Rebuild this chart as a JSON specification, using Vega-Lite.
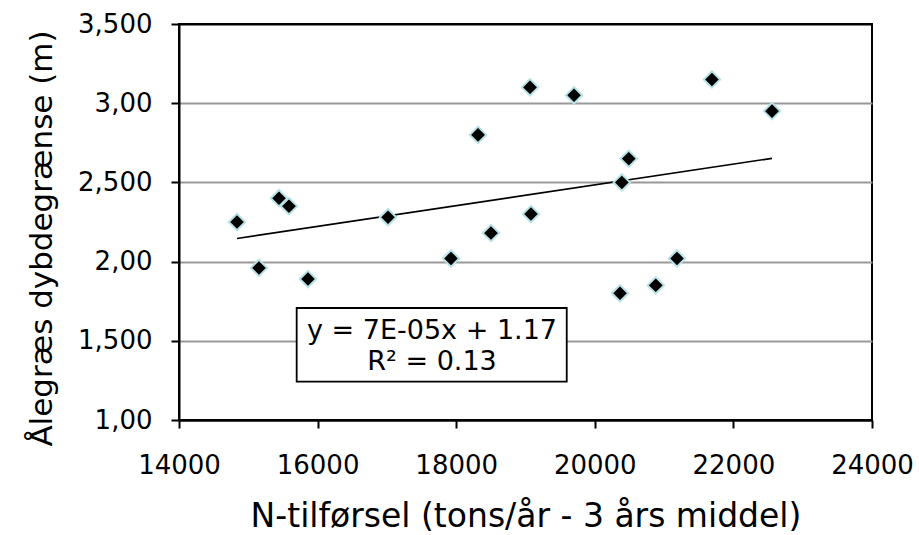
{
  "$schema": "https://vega.github.io/schema/vega-lite/v6.json",
  "width": 693,
  "height": 396,
  "autosize": {"type": "none"},
  "padding": {"left": 179, "top": 24, "right": 47, "bottom": 115},
  "background": "white",
  "config": {
    "view": {"stroke": "black", "strokeWidth": 2},
    "font": "DejaVu Sans",
    "axis": {
      "labelFont": "DejaVu Sans",
      "titleFont": "DejaVu Sans",
      "labelFontSize": 26,
      "titleFontSize": 33,
      "titleFontWeight": "normal",
      "labelColor": "black",
      "titleColor": "black",
      "domainColor": "black",
      "domainWidth": 2,
      "tickColor": "black",
      "tickWidth": 2,
      "tickSize": 8,
      "labelFlush": false
    }
  },
  "datasets": {
    "points": [
      {"n": 14837, "d": 2.25},
      {"n": 15154, "d": 1.96},
      {"n": 15443, "d": 2.40},
      {"n": 15587, "d": 2.35},
      {"n": 15861, "d": 1.89},
      {"n": 17016, "d": 2.28},
      {"n": 17925, "d": 2.02},
      {"n": 18315, "d": 2.80},
      {"n": 18502, "d": 2.18},
      {"n": 19065, "d": 3.10},
      {"n": 19079, "d": 2.30},
      {"n": 19700, "d": 3.05},
      {"n": 20364, "d": 1.80},
      {"n": 20390, "d": 2.50},
      {"n": 20490, "d": 2.65},
      {"n": 20880, "d": 1.85},
      {"n": 21186, "d": 2.02},
      {"n": 21690, "d": 3.15},
      {"n": 22557, "d": 2.95}
    ],
    "box": [
      {"x1": 15698, "x2": 19595, "y1": 1.242, "y2": 1.707}
    ],
    "labels": [
      {"x": 17651, "y": 1.562, "text": "y = 7E-05x + 1.17"},
      {"x": 17651, "y": 1.366, "text": "R² = 0.13"}
    ]
  },
  "layer": [
    {
      "data": {"name": "points"},
      "transform": [{"regression": "d", "on": "n"}],
      "mark": {"type": "line", "color": "black", "strokeWidth": 1.6},
      "encoding": {
        "x": {
          "field": "n", "type": "quantitative",
          "scale": {"domain": [14000, 24000], "nice": false, "zero": false},
          "axis": {
            "title": "N-tilførsel (tons/år - 3 års middel)",
            "values": [14000, 16000, 18000, 20000, 22000, 24000],
            "format": "d",
            "grid": false,
            "labelPadding": 24,
            "titlePadding": 22
          }
        },
        "y": {
          "field": "d", "type": "quantitative",
          "scale": {"domain": [1, 3.5], "nice": false, "zero": false},
          "axis": {
            "title": "Ålegræs dybdegrænse (m)",
            "titleFontSize": 31,
            "titleY": 214,
            "values": [1, 1.5, 2, 2.5, 3, 3.5],
            "labelExpr": "datum.value % 1 == 0 ? format(datum.value, 'd') + ',00' : format(floor(datum.value), 'd') + ',500'",
            "grid": true,
            "gridColor": {"condition": {"test": "datum.value == 3.5 || datum.value == 1", "value": "black"}, "value": "#999999"},
            "gridWidth": 2,
            "labelPadding": 19,
            "titlePadding": 19
          }
        }
      }
    },
    {
      "data": {"name": "points"},
      "mark": {"type": "point", "shape": "diamond", "filled": true, "fill": "black", "stroke": "#b9e2e6", "strokeWidth": 2, "size": 270, "opacity": 1},
      "encoding": {
        "x": {"field": "n", "type": "quantitative"},
        "y": {"field": "d", "type": "quantitative"}
      }
    },
    {
      "data": {"name": "box"},
      "mark": {"type": "rect", "fill": "white", "stroke": "black", "strokeWidth": 1.8},
      "encoding": {
        "x": {"field": "x1", "type": "quantitative"},
        "x2": {"field": "x2"},
        "y": {"field": "y1", "type": "quantitative"},
        "y2": {"field": "y2"}
      }
    },
    {
      "data": {"name": "labels"},
      "mark": {"type": "text", "font": "DejaVu Sans", "fontSize": 27, "color": "black", "align": "center", "baseline": "middle"},
      "encoding": {
        "x": {"field": "x", "type": "quantitative"},
        "y": {"field": "y", "type": "quantitative"},
        "text": {"field": "text"}
      }
    }
  ]
}
